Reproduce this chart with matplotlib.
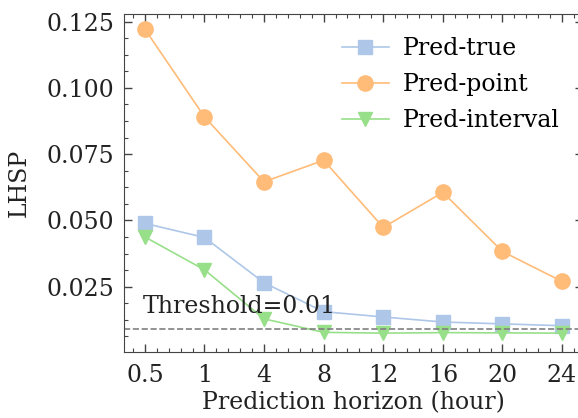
import matplotlib
matplotlib.use("Agg")
import matplotlib.pyplot as plt
from matplotlib.ticker import AutoMinorLocator

horizons = ["0.5", "1", "4", "8", "12", "16", "20", "24"]
pred_true = [0.0489, 0.0436, 0.0265, 0.0156, 0.0136, 0.0117, 0.0110, 0.0103]
pred_point = [0.1222, 0.0891, 0.0646, 0.0727, 0.0474, 0.0606, 0.0383, 0.0270]
pred_interval = [0.0438, 0.0314, 0.0129, 0.0078, 0.0075, 0.0077, 0.0076, 0.0075]
threshold = 0.009

plt.rcParams['font.family'] = 'DejaVu Serif'
plt.rcParams['mathtext.fontset'] = 'dejavuserif'
fs = 17

fig = plt.figure(figsize=(5.78, 4.18), dpi=100)
ax = fig.add_axes([0.2145, 0.1586, 0.794, 0.808])

x = range(len(horizons))
ax.plot(x, pred_true, marker='s', color='#aec7e8', lw=1.2, ms=10, label='Pred-true')
ax.plot(x, pred_point, marker='o', color='#ffbb78', lw=1.2, ms=11, label='Pred-point')
ax.plot(x, pred_interval, marker='v', color='#98df8a', lw=1.2, ms=10, label='Pred-interval')
ax.axhline(threshold, color='gray', ls='--', lw=1.2)
ax.text(-0.03, 0.0152, 'Threshold=0.01', fontsize=fs, color='#222222')

ax.set_xticks(list(x))
ax.set_xticklabels(horizons)
ax.set_xlim(-0.35, 7.35)
ax.set_ylim(0.0005, 0.1279)
ax.set_yticks([0.025, 0.050, 0.075, 0.100, 0.125])
ax.set_yticklabels(['0.025', '0.050', '0.075', '0.100', '0.125'])
ax.xaxis.set_minor_locator(AutoMinorLocator(5))
ax.yaxis.set_minor_locator(AutoMinorLocator(4))
ax.tick_params(which='both', direction='in', top=True, right=True, colors='#444444', labelcolor='#222222', labelsize=fs)
ax.tick_params(which='major', length=6, width=1)
ax.tick_params(axis='x', which='major', pad=9)
ax.tick_params(axis='y', which='major', pad=7)
ax.tick_params(which='minor', length=3, width=0.8)
for s in ax.spines.values():
    s.set_color('#444444')

ax.set_xlabel('Prediction horizon (hour)', fontsize=fs, color='#222222', labelpad=3)
ax.set_ylabel('LHSP', fontsize=fs, color='#222222', labelpad=11)
ax.legend(loc='upper right', frameon=False, fontsize=fs, bbox_to_anchor=(0.996, 0.995),
          handletextpad=0.6, labelspacing=0.55)

fig.savefig('out.png', dpi=100)
